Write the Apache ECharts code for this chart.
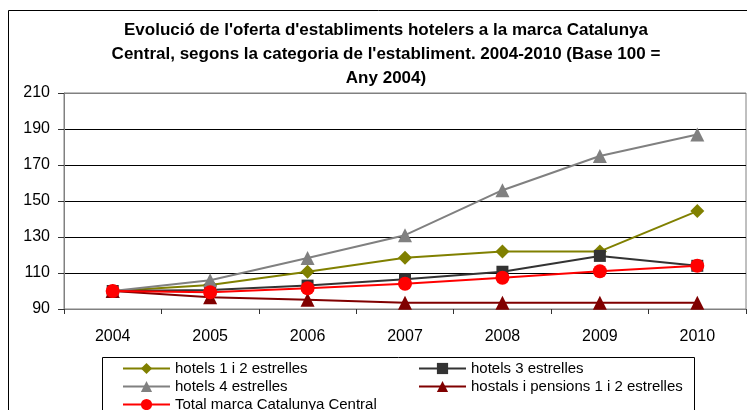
<!DOCTYPE html>
<html>
<head>
<meta charset="utf-8">
<script src="https://cdn.jsdelivr.net/npm/echarts@6/dist/echarts.min.js"></script>
<style>
html, body {margin:0; padding:0; background:#fff;}
#main {width:747px; height:410px;}
</style>
</head>
<body>
<div id="main"></div>
<script>
var years = ['2004', '2005', '2006', '2007', '2008', '2009', '2010'];
var hotels12 = [100, 103.3, 110.7, 118.5, 122, 122, 144.4];
var hotels3 = [100, 100.5, 103, 106.5, 110.7, 119.5, 114];
var hotels4 = [100, 106, 118.3, 131, 156, 175, 187];
var hostals = [100, 96.5, 95.2, 93.5, 93.5, 93.5, 93.5];
var total = [100, 99.3, 101.5, 104, 107.4, 111, 114];
var yTicks = [90, 110, 130, 150, 170, 190, 210];

var names = ['hotels 1 i 2 estrelles', 'hotels 3 estrelles', 'hotels 4 estrelles',
    'hostals i pensions 1 i 2 estrelles', 'Total marca Catalunya Central'];

var chart = echarts.init(document.getElementById('main'));

function serie(name, data, color, symbol, size) {
    return {
        name: name,
        type: 'line',
        data: data,
        symbol: symbol,
        symbolSize: size,
        animation: false,
        lineStyle: {color: color, width: 2},
        itemStyle: {color: color}
    };
}

var legendText = {fontFamily: 'Liberation Sans', fontSize: 15, color: '#000'};

var option = {
    backgroundColor: '#fff',
    title: {
        text: "Evolució de l'oferta d'establiments hotelers a la marca Catalunya\nCentral, segons la categoria de l'establiment. 2004-2010 (Base 100 =\nAny 2004)",
        left: 381,
        top: 13,
        textAlign: 'center',
        textStyle: {
            fontFamily: 'Liberation Sans',
            fontWeight: 'bold',
            fontSize: 17,
            lineHeight: 24,
            color: '#000'
        }
    },
    legend: [
        {
            data: [names[0], names[2], names[4]],
            orient: 'vertical',
            left: 117,
            top: 356,
            height: 60,
            itemWidth: 47,
            itemHeight: 14,
            itemGap: 3,
            textStyle: legendText
        },
        {
            data: [names[1], names[3]],
            orient: 'vertical',
            left: 413,
            top: 356,
            height: 60,
            itemWidth: 47,
            itemHeight: 14,
            itemGap: 3,
            textStyle: legendText
        }
    ],
    grid: {
        left: 64,
        right: 1,
        top: 93,
        bottom: 101,
        show: true,
        borderColor: '#808080',
        borderWidth: 1
    },
    xAxis: {
        type: 'category',
        data: years,
        boundaryGap: true,
        axisLine: {lineStyle: {color: '#808080', width: 1}},
        axisTick: {show: true, length: 5, lineStyle: {color: '#333'}},
        axisLabel: {margin: 20, fontFamily: 'Liberation Sans', fontSize: 16, color: '#000'}
    },
    yAxis: {
        type: 'value',
        min: 90,
        max: 210,
        interval: 20,
        axisLine: {show: true, lineStyle: {color: '#808080', width: 1}},
        axisTick: {show: true, length: 6, lineStyle: {color: '#333'}},
        axisLabel: {margin: 14, fontFamily: 'Liberation Sans', fontSize: 16, color: '#000',
            formatter: function (v) { return yTicks.indexOf(v) >= 0 ? v : ''; }},
        splitLine: {show: true, lineStyle: {
            color: ['#808080', '#000', '#000', '#000', '#000', '#000', '#808080'], width: 1}}
    },
    graphic: [
        {type: 'rect', shape: {x: 8.5, y: 10.5, width: 800, height: 500}, z: -10,
            style: {fill: 'none', stroke: '#000', lineWidth: 1}},
        {type: 'rect', shape: {x: 102.5, y: 357.5, width: 592, height: 100}, z: -10,
            style: {fill: 'none', stroke: '#000', lineWidth: 1}}
    ],
    series: [
        serie(names[0], hotels12, '#808000', 'diamond', 14),
        serie(names[1], hotels3, '#333333', 'rect', 12),
        serie(names[2], hotels4, '#808080', 'triangle', 14),
        serie(names[3], hostals, '#800000', 'triangle', 14),
        serie(names[4], total, '#ff0000', 'circle', 14)
    ]
};

chart.setOption(option);
</script>
</body>
</html>
